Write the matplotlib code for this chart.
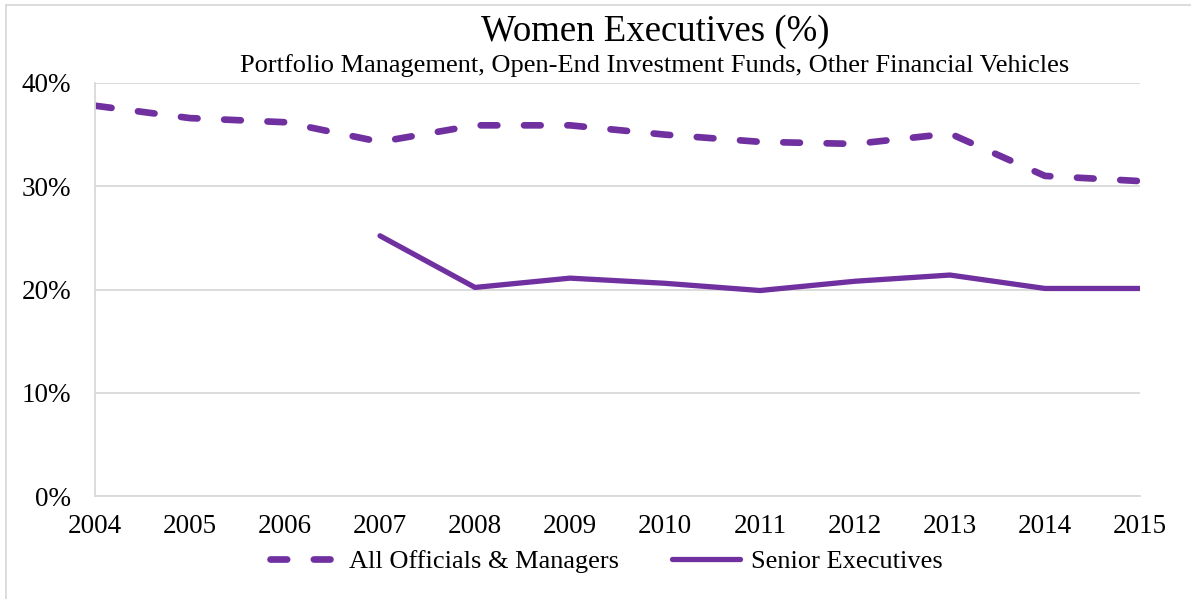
import matplotlib
matplotlib.use("Agg")
import matplotlib.pyplot as plt
from matplotlib.ticker import FuncFormatter
from matplotlib.lines import Line2D

years = [2004, 2005, 2006, 2007, 2008, 2009, 2010, 2011, 2012, 2013, 2014, 2015]
all_officials = [37.8, 36.6, 36.2, 34.3, 35.9, 35.9, 35.0, 34.3, 34.1, 35.1, 31.0, 30.5]
senior_years = [2007, 2008, 2009, 2010, 2011, 2012, 2013, 2014, 2015]
senior_exec = [25.2, 20.2, 21.1, 20.6, 19.9, 20.8, 21.4, 20.1, 20.1]
yticks = [0, 10, 20, 30, 40]

purple = "#7030A0"
grid_c = "#d9d9d9"
serif = ["Liberation Serif", "DejaVu Serif"]

plt.rcParams['font.family'] = serif

fig = plt.figure(figsize=(11.91, 5.99), dpi=100)
ax = fig.add_axes([95/1191, 1 - 496/599, (1140 - 95)/1191, (496 - 83)/599])

ax.plot(years, all_officials, color=purple, lw=4.8, linestyle=(0, (2.5, 4.0)),
        dash_capstyle='round', solid_capstyle='round', label="All Officials & Managers")
ax.plot(senior_years, senior_exec, color=purple, lw=3.8, solid_capstyle='round',
        label="Senior Executives")

ax.set_xlim(years[0], years[-1])
ax.set_ylim(0, 40)
ax.set_yticks(yticks)
ax.yaxis.set_major_formatter(FuncFormatter(lambda v, p: f"{v:.0f}%"))
ax.set_xticks(years)
ax.set_xticklabels([str(y) for y in years])
ax.tick_params(axis='both', length=0, labelsize=19.5, colors='black')
ax.tick_params(axis='x', pad=13)
ax.tick_params(axis='y', pad=17)
ax.grid(axis='y', color=grid_c, lw=1.3)
ax.set_axisbelow(True)
for s in ['top', 'right']:
    ax.spines[s].set_visible(False)
for s in ['left', 'bottom']:
    ax.spines[s].set_color(grid_c)
    ax.spines[s].set_linewidth(1.3)

fig.text(655/1191, 1 - 32/599, "Women Executives (%)", ha='center', va='center', fontsize=26.5)
fig.text(655/1191, 1 - 66/599, "Portfolio Management, Open-End Investment Funds, Other Financial Vehicles",
         ha='center', va='center', fontsize=19)

leg = fig.legend(loc='center', bbox_to_anchor=(606/1191, 1 - 561/599), ncol=2, frameon=False,
                 fontsize=19, handlelength=2.6, columnspacing=2.0, handletextpad=0.4)

fig.add_artist(Line2D([6/1191, 6/1191], [0, 1 - 5/599], transform=fig.transFigure, color=grid_c, lw=1.3))
fig.add_artist(Line2D([6/1191, 1], [1 - 5/599, 1 - 5/599], transform=fig.transFigure, color=grid_c, lw=1.3))

fig.savefig("out.png", dpi=100)
